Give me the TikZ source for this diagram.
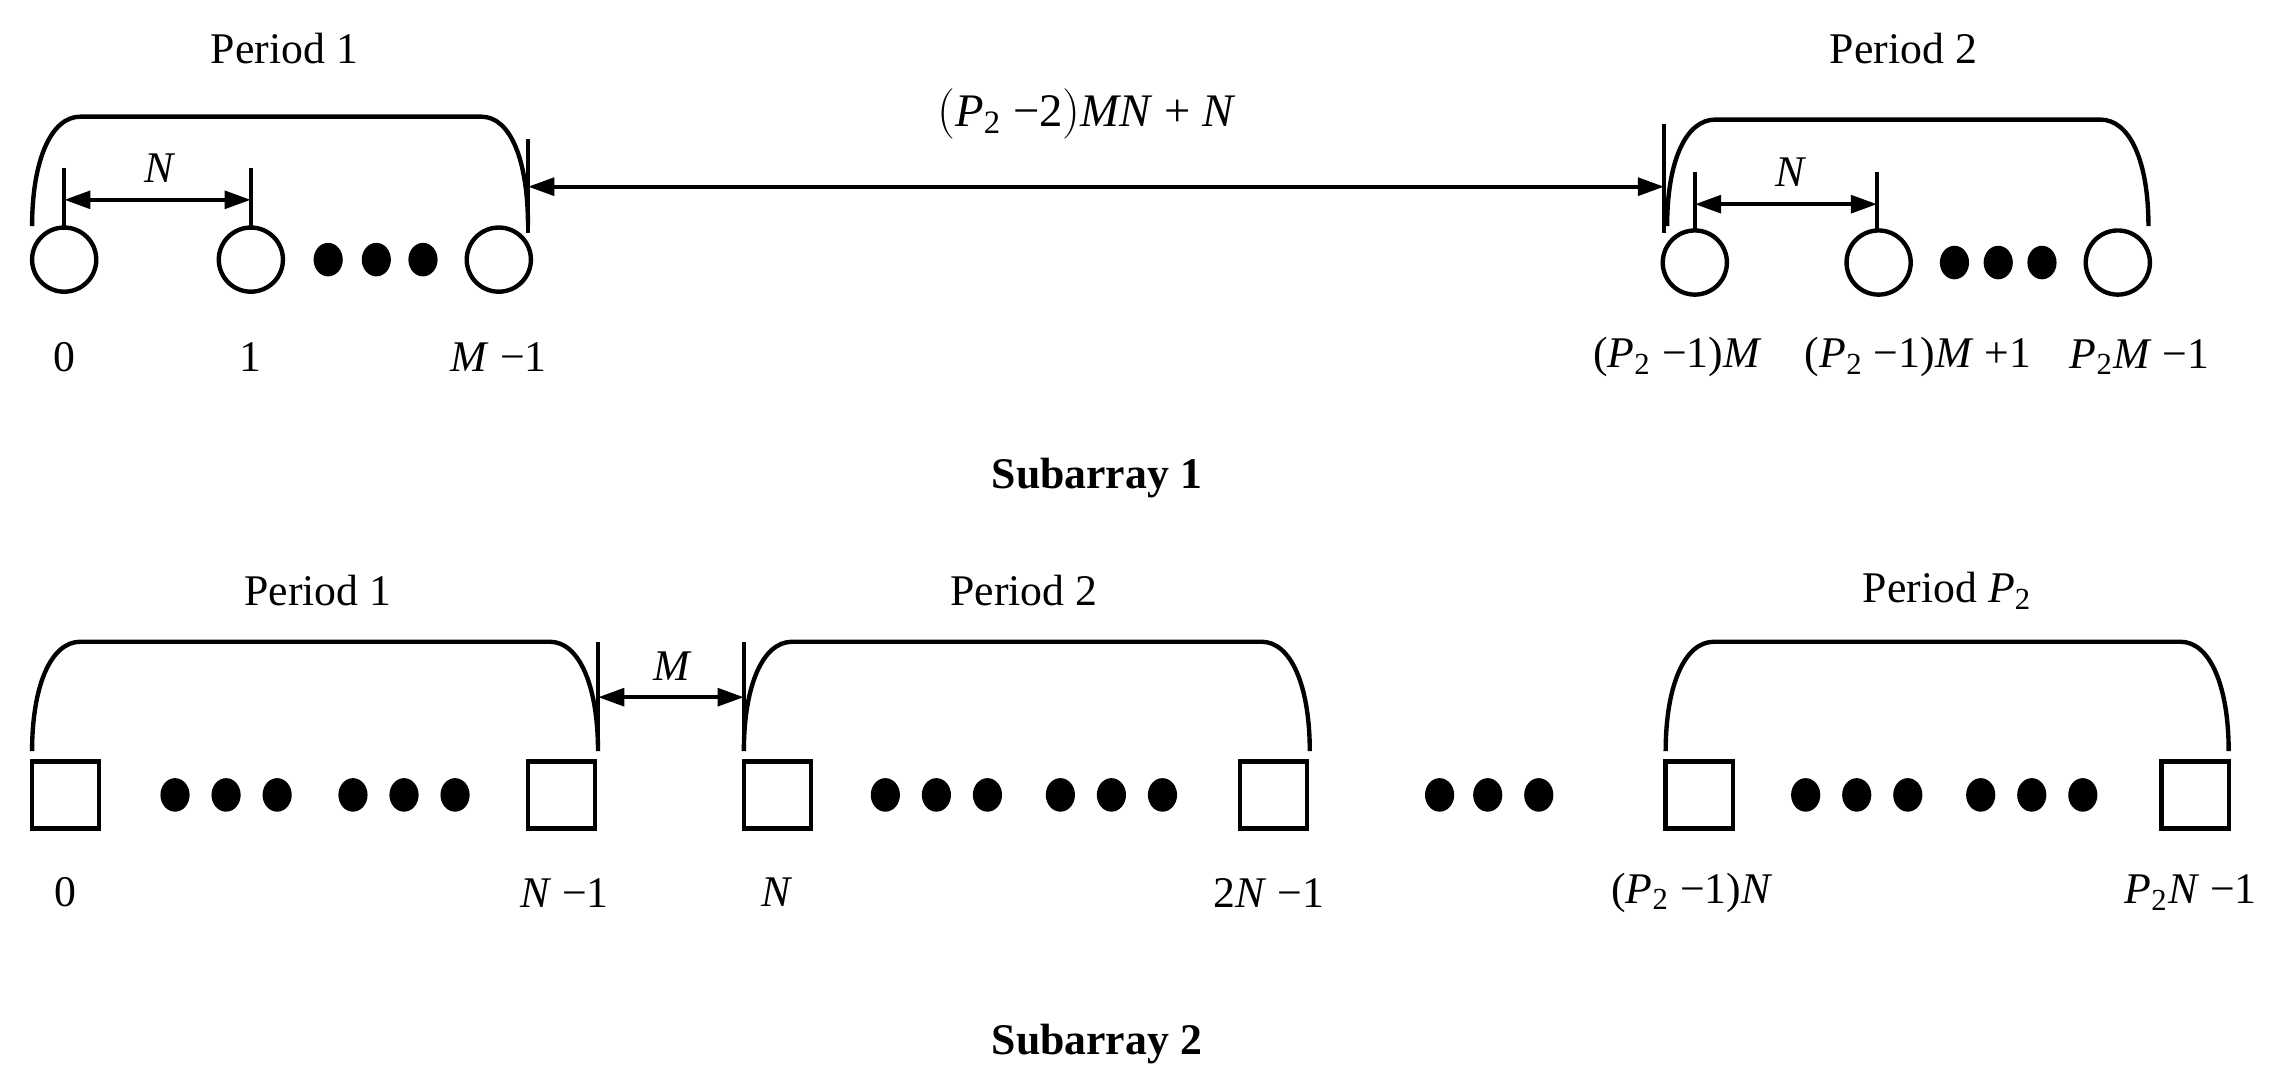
\documentclass[tikz,border=0pt]{standalone}
\usepackage{fontspec}
\setmainfont{Liberation Serif}
\usetikzlibrary{arrows.meta,shapes.geometric}
\newcommand{\mi}[1]{\textit{#1}}
\begin{document}
\begin{tikzpicture}[x=0.5pt,y=-0.5pt,
  lw/.style={line width=1.5pt},
  el/.style={lw,draw,circle,minimum size=22pt,inner sep=0pt},
  sq/.style={lw,draw,minimum size=23pt,inner sep=0pt},
  dot/.style={fill,ellipse,minimum width=10pt,minimum height=11.5pt,inner sep=0pt},
  txt/.style={font=\fontsize{15}{17}\selectfont,inner sep=0pt},
  dim/.style={lw,{Triangle[length=9pt,width=6pt]}-{Triangle[length=9pt,width=6pt]}},
  tick/.style={lw},
  brace/.style={lw}]
\useasboundingbox (0,0) rectangle (1568,744);
% ---------- Subarray 1 ----------
\node[txt] (p11) at (195,33) {Period 1};
\draw[brace] (22,155) .. controls (22,110) and (35,80) .. (55,80) -- (330,80) .. controls (350,80) and (362,110) .. (362,155);
\node[el] (a0) at (44,178) {};
\node[el] (a1) at (172,178) {};
\node[el] (a2) at (342,178) {};
\foreach \x/\n in {225/d1,258/d2,290/d3} \node[dot] (\n) at (\x,178) {};
\coordinate (t1a) at (44,115); \coordinate (t1b) at (44,158);
\coordinate (t2a) at (172,115); \coordinate (t2b) at (172,158);
\draw[tick] (t1a) -- (t1b); \draw[tick] (t2a) -- (t2b);
\coordinate (n1l) at (44,137); \coordinate (n1r) at (172,137);
\draw[dim] (n1l) -- (n1r);
\node[txt] (lN1) at (110,115) {\mi{N}};
\node[txt] (l0) at (44,245) {0};
\node[txt] (l1) at (172,245) {1};
\node[txt] (lM1) at (342,245) {\mi{M} −1};
% big gap
\coordinate (g1a) at (362,95); \coordinate (g1b) at (362,160);
\coordinate (g2a) at (1141,85); \coordinate (g2b) at (1141,160);
\draw[tick] (g1a) -- (g1b); \draw[tick] (g2a) -- (g2b);
\coordinate (gl) at (362,128); \coordinate (gr) at (1141,128);
\draw[dim] (gl) -- (gr);
\node[txt] (lgap) at (745,78) {\fontsize{16}{18}\selectfont$\bigl($\mi{P}\textsubscript{2} −2$\bigr)$\mi{MN} + \mi{N}};
% period 2
\node[txt] (p12) at (1305,33) {Period 2};
\draw[brace] (1143,155) .. controls (1143,110) and (1156,82) .. (1176,82) -- (1440,82) .. controls (1460,82) and (1473,110) .. (1473,155);
\node[el] (b0) at (1162,180) {};
\node[el] (b1) at (1288,180) {};
\node[el] (b2) at (1452,180) {};
\foreach \x/\n in {1340/e1,1370/e2,1400/e3} \node[dot] (\n) at (\x,180) {};
\coordinate (u1a) at (1162,118); \coordinate (u1b) at (1162,158);
\coordinate (u2a) at (1287,118); \coordinate (u2b) at (1287,158);
\draw[tick] (u1a) -- (u1b); \draw[tick] (u2a) -- (u2b);
\coordinate (n2l) at (1162,140); \coordinate (n2r) at (1287,140);
\draw[dim] (n2l) -- (n2r);
\node[txt] (lN2) at (1228,118) {\mi{N}};
\node[txt] (lb0) at (1150,245) {(\mi{P}\textsubscript{2} −1)\mi{M}};
\node[txt] (lb1) at (1315,245) {(\mi{P}\textsubscript{2} −1)\mi{M} +1};
\node[txt] (lb2) at (1467,245) {\mi{P}\textsubscript{2}\mi{M} −1};
\node[txt] (s1) at (752,328) {\bfseries Subarray 1};
% ---------- Subarray 2 ----------
\node[txt] (p21) at (218,405) {Period 1};
\node[txt] (p22) at (702,405) {Period 2};
\node[txt] (p23) at (1335,405) {Period \mi{P}\textsubscript{2}};
\foreach \l/\r in {22/410,510/898,1142/1528}
  \draw[brace] (\l,515) .. controls (\l,470) and (\l+13,440) .. (\l+33,440) -- (\r-33,440) .. controls (\r-13,440) and (\r,470) .. (\r,515);
\coordinate (m1a) at (410,440); \coordinate (m1b) at (410,512);
\coordinate (m2a) at (510,440); \coordinate (m2b) at (510,512);
\draw[tick] (m1a) -- (m1b); \draw[tick] (m2a) -- (m2b);
\coordinate (ml) at (410,478); \coordinate (mr) at (510,478);
\draw[dim] (ml) -- (mr);
\node[txt] (lM) at (461,457) {\mi{M}};
\foreach \x/\n in {45/q0,385/q1,533/q2,873/q3,1165/q4,1505/q5} \node[sq] (\n) at (\x,545) {};
\foreach \x [count=\i] in {120,155,190,242,277,312,607,642,677,727,762,797,987,1020,1055,1238,1273,1308,1358,1393,1428}
  \node[dot] (f\i) at (\x,545) {};
\node[txt] (m0) at (45,612) {0};
\node[txt] (m1) at (387,612) {\mi{N} −1};
\node[txt] (m2) at (533,612) {\mi{N}};
\node[txt] (m3) at (870,612) {2\mi{N} −1};
\node[txt] (m4) at (1160,612) {(\mi{P}\textsubscript{2} −1)\mi{N}};
\node[txt] (m5) at (1502,612) {\mi{P}\textsubscript{2}\mi{N} −1};
\node[txt] (s2) at (752,716) {\bfseries Subarray 2};
\end{tikzpicture}
\end{document}
